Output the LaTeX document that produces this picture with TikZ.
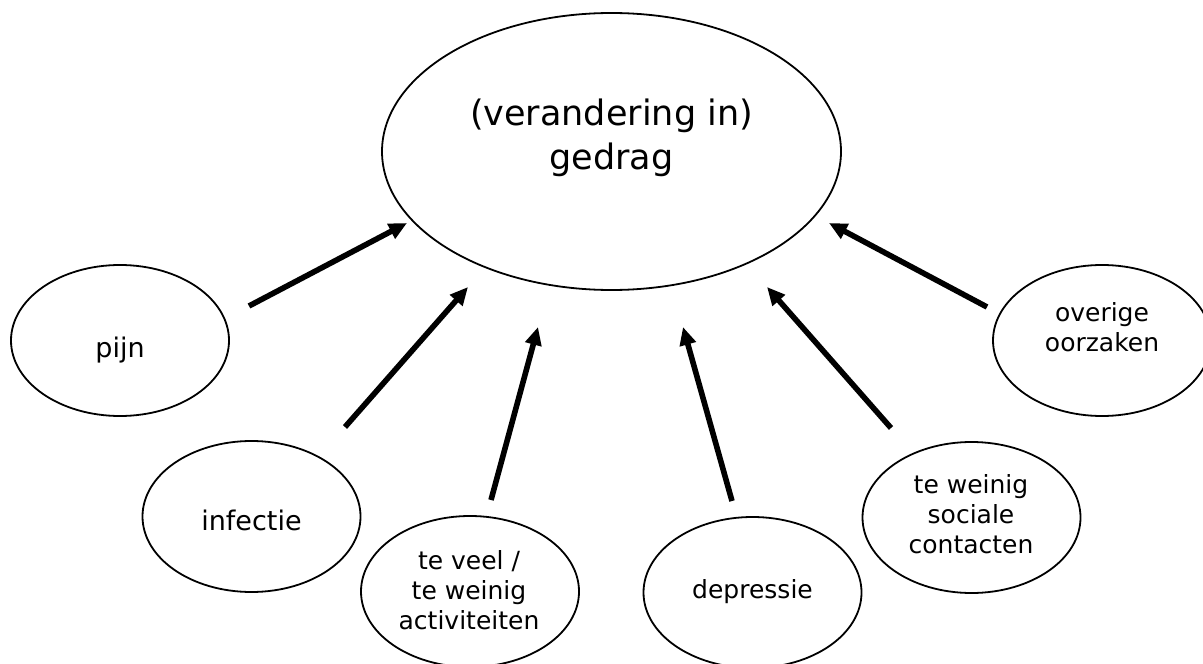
\documentclass[tikz,border=0pt]{standalone}
\usepackage{fontspec}
\setmainfont{DejaVu Sans}
\usetikzlibrary{shapes.geometric, arrows.meta}

\tikzset{
  bubble/.style={ellipse, draw, line width=0.9pt, inner sep=0pt,
    minimum width=109pt, minimum height=75.5pt},
  bubbletext/.style={align=center, font=\fontsize{12.5}{15}\selectfont},
  cause/.style={line width=2.8pt, -{Triangle[length=9pt, width=8pt]}},
}

\begin{document}
\begin{tikzpicture}[x=0.5pt, y=-0.5pt]
  \useasboundingbox (0,0) rectangle (1203,663);
  % centre
  \node[bubble, minimum width=229.5pt, minimum height=138.5pt] (gedrag) at (611.5,151.5) {};
  \node[align=center, font=\fontsize{17.5}{22}\selectfont] (gedrag-text) at (611.5,138)
    {(verandering in)\\gedrag};
  % oorzaken
  \foreach \n/\x/\y/\tx/\ty/\s/\t in {
      pijn/120/340.5/120/350/13.5/pijn,
      infectie/251.5/516.5/251.5/520/13.5/infectie,
      activiteit/470/591.5/469/590/12.5/{te veel /\\te weinig\\activiteiten},
      depressie/752.5/592.5/752.5/592/12.5/depressie,
      sociaal/971.5/517.5/971/514/12.5/{te weinig\\sociale\\contacten},
      overig/1102/340.5/1102/327/12.5/{overige\\oorzaken}}{
    \node[bubble] (\n) at (\x,\y) {};
    \node[bubbletext, font=\fontsize{\s}{15}\selectfont] (\n-text) at (\tx,\ty) {\t};
  }
  % pijlen
  \foreach \n/\ax/\ay/\bx/\by in {pijn/249/306/407/223, infectie/345/427/468/287,
      activiteit/491/500/538/327, depressie/732/501/683/327,
      sociaal/891/428/767/287, overig/987/307/829/223}{
    \coordinate (\n-tail) at (\ax,\ay);
    \coordinate (\n-tip) at (\bx,\by);
    \draw[cause] (\n-tail) -- (\n-tip);
  }
\end{tikzpicture}
\end{document}
